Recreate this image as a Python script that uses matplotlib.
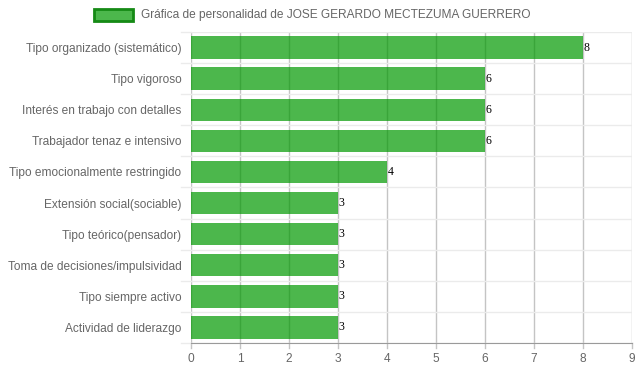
import matplotlib.pyplot as plt
from matplotlib.patches import Rectangle
import numpy as np

plt.rcParams['font.family'] = ['Liberation Sans', 'DejaVu Sans']

# Chart data
categorias = ["Tipo organizado (sistemático)", "Tipo vigoroso",
              "Interés en trabajo con detalles", "Trabajador tenaz e intensivo",
              "Tipo emocionalmente restringido", "Extensión social(sociable)",
              "Tipo teórico(pensador)", "Toma de decisiones/impulsividad",
              "Tipo siempre activo", "Actividad de liderazgo"]
valores = [8, 6, 6, 6, 4, 3, 3, 3, 3, 3]
titulo = "Gráfica de personalidad de JOSE GERARDO MECTEZUMA GUERRERO"

W, H = 639, 372
fig = plt.figure(figsize=(W / 100, H / 100), dpi=100)
# plot area in pixel coords
left, right, top, bottom = 191, 632, 32, 343
ax = fig.add_axes([left / W, 1 - bottom / H, (right - left) / W, (bottom - top) / H])

n = len(categorias)
y = np.arange(n)
ax.set_xlim(0, 9)
ax.set_ylim(n - 0.5, -0.5)

# grid
for xv in range(0, 10):
    ax.axvline(xv, color='#c4c4c4', lw=1, zorder=0)
    ax.plot([xv, xv], [n - 0.5, n - 0.35], color='#c4c4c4', lw=1,
            clip_on=False, zorder=0)
for b in np.arange(-0.5, n, 1.0):
    ax.axhline(b, color='#ebebeb', lw=1, zorder=0)

ax.barh(y, valores, height=0.72, color=(0.0, 0.6, 0.0, 0.7), zorder=2)

for yi, v in zip(y, valores):
    ax.text(v + 0.01, yi, str(v), fontsize=8.5, family='Liberation Serif',
            va='center', ha='left', color='black', zorder=3)

for s in ['top', 'right', 'left']:
    ax.spines[s].set_visible(False)
ax.spines['bottom'].set_color('#9a9a9a')
ax.spines['bottom'].set_zorder(1)

ax.set_xticks(range(0, 10))
ax.tick_params(axis='x', length=0, pad=7, labelsize=8.6, labelcolor='#666666')
ax.set_yticks(y)
ax.set_yticklabels(categorias)
ax.tick_params(axis='y', length=0, pad=7, labelsize=8.6, labelcolor='#666666')

# left tick marks of horizontal grid
for b in np.arange(-0.5, n, 1.0):
    ax.plot([-0.2, 0], [b, b], color='#ebebeb', lw=1, clip_on=False, zorder=0)

# legend at the top
fig.patches.append(Rectangle((94 / W, 1 - 21 / H), 39 / W, 12 / H,
                             transform=fig.transFigure,
                             facecolor=(0.0, 0.6, 0.0, 0.7),
                             edgecolor='#158a15', lw=2))
fig.text(141 / W, 1 - 15 / H, titulo, fontsize=8.6, color='#666666',
         va='center', ha='left')

fig.savefig('out.png', dpi=100)
